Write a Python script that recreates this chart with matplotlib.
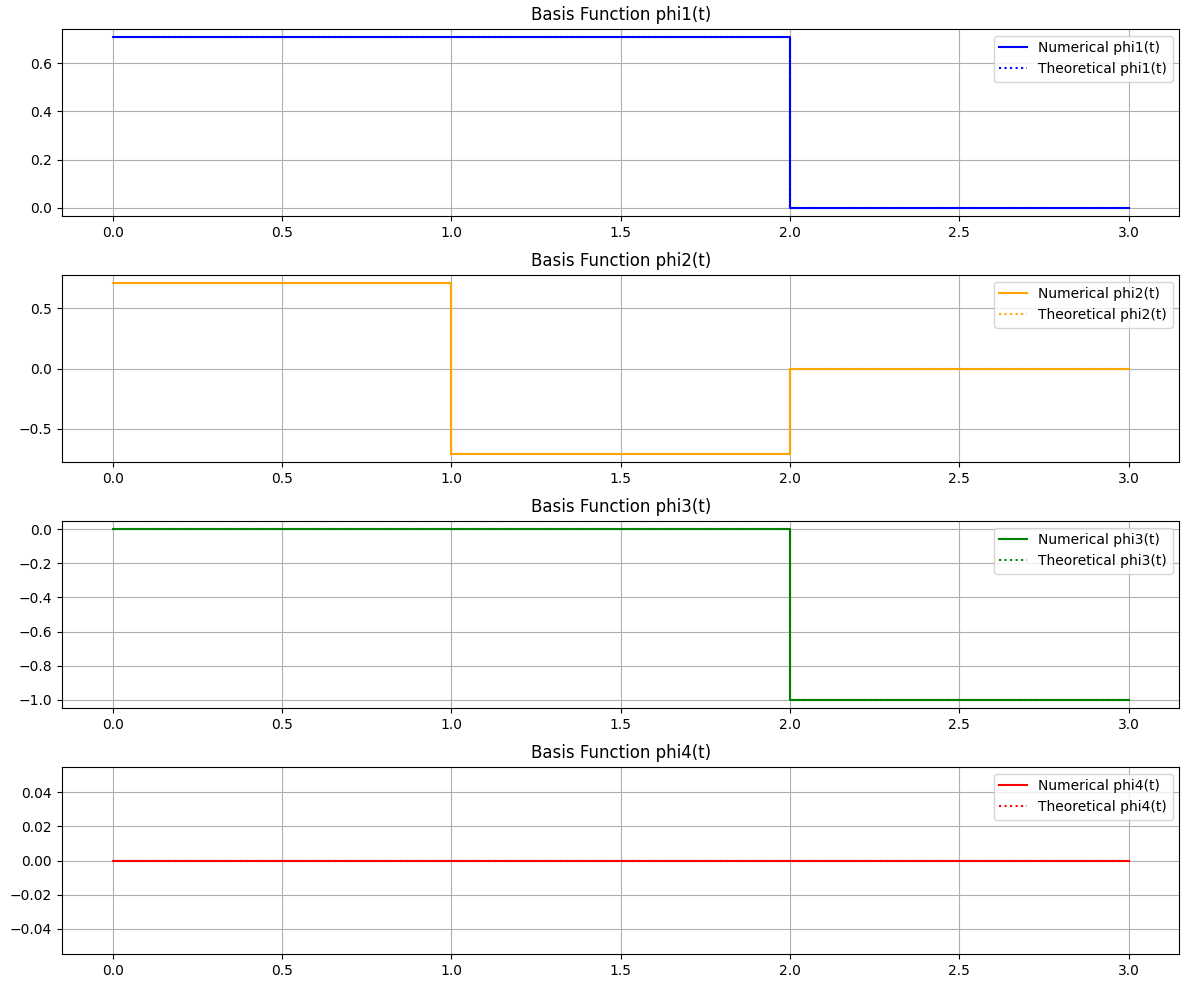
import numpy as np
import matplotlib
matplotlib.use("Agg")
import matplotlib.pyplot as plt

# breakpoints of the piecewise-constant basis functions
t_knots = [0.0, 1.0, 2.0, 3.0]
phi1_vals = [0.7071, 0.7071, 0.0, 0.0]
phi2_vals = [0.7071, -0.7071, 0.0, 0.0]
phi3_vals = [0.0, 0.0, -1.0, -1.0]
phi4_vals = [0.0, 0.0, 0.0, 0.0]

names = ["phi1", "phi2", "phi3", "phi4"]
colors = ["blue", "orange", "green", "red"]
series = [phi1_vals, phi2_vals, phi3_vals, phi4_vals]

fig, axes = plt.subplots(4, 1, figsize=(11.89, 9.89))
for ax, name, c, vals in zip(axes, names, colors, series):
    ax.plot(t_knots, vals, color=c, drawstyle="steps-post", label=f"Numerical {name}(t)")
    ax.plot(t_knots, vals, color=c, linestyle=":", drawstyle="steps-post", label=f"Theoretical {name}(t)")
    ax.set_title(f"Basis Function {name}(t)")
    ax.grid(True)
    ax.legend(loc="upper right")

fig.subplots_adjust(left=0.052, right=0.992, top=0.971, bottom=0.035, hspace=0.31)
plt.savefig("out.png", dpi=100)
